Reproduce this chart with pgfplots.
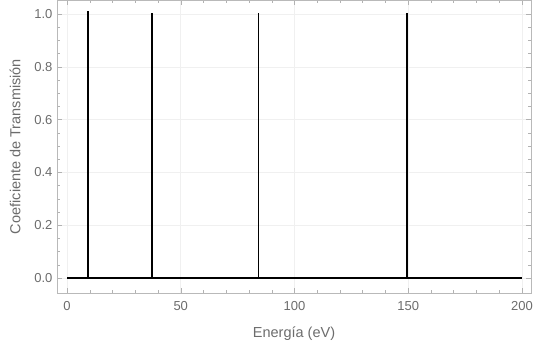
\documentclass[border=0pt]{standalone}
\usepackage{fontspec}
\setmainfont{Liberation Sans}
\usepackage{pgfplots}
\pgfplotsset{compat=1.18}
\begin{document}
\begin{tikzpicture}
\begin{axis}[
  at={(0pt,0pt)}, anchor=south west,
  scale only axis, width=474pt, height=293pt,
  xmin=-4.4, xmax=204, ymin=-0.057, ymax=1.053,
  xtick={0,50,100,150,200},
  ytick={0,0.2,0.4,0.6,0.8,1.0},
  minor x tick num=4, minor y tick num=3,
  tick align=inside,
  major tick length=5pt, minor tick length=3pt,
  every tick/.style={gray!60},
  axis line style={gray!55, line width=0.6pt},
  grid=major,
  major grid style={gray!12, line width=0.5pt},
  ticklabel style={font=\fontsize{13}{13}\selectfont, text=gray!85!black},
  /pgf/number format/assume math mode=true,
  yticklabel style={/pgf/number format/fixed, /pgf/number format/fixed zerofill, /pgf/number format/precision=1, xshift=-1pt},
  xticklabel style={/pgf/number format/fixed, yshift=-5pt},
  xlabel={Energía (eV)}, ylabel={Coeficiente de Transmisión},
  label style={font=\fontsize{14.5}{14.5}\selectfont, text=gray!85!black},
  xlabel style={yshift=-9pt},
  ylabel style={yshift=7pt},
  clip=false,
]
\addplot[black, line width=1.8pt] coordinates {(0,0) (200,0)};
\addplot[black, line width=1.8pt, ycomb, no marks] coordinates {
 (9.3,1.012) (37.4,1.005) (84.2,1.005) (149.6,1.005)
};
\end{axis}
\pgfresetboundingbox
\useasboundingbox (-57pt,-56pt) rectangle (476pt,293pt);
\end{tikzpicture}
\end{document}
